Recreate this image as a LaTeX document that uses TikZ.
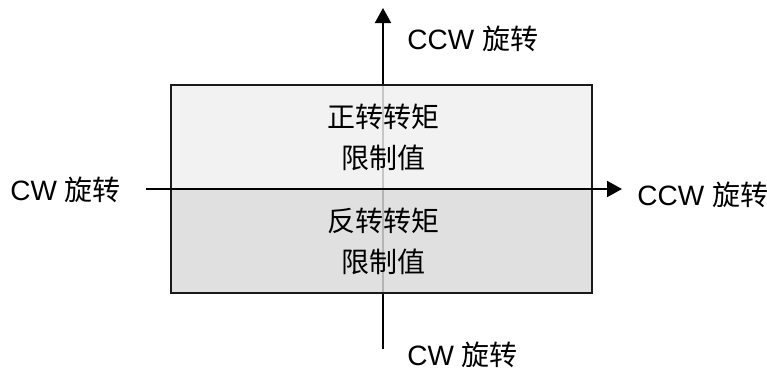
\documentclass[tikz,border=0pt]{standalone}
\usepackage{fontspec}
\setmainfont{Liberation Sans}
\newfontfamily\cjk{Noto Sans CJK SC}
\usetikzlibrary{arrows.meta,positioning}
\definecolor{posfill}{RGB}{239,239,239}
\definecolor{negfill}{RGB}{218,218,218}
\definecolor{rimgray}{RGB}{26,26,26}
\newcommand{\zh}[1]{{\cjk #1}}
\tikzset{
  limbox/.style={draw=rimgray,line width=0.65pt,fill=#1,fill opacity=0.83,text opacity=1,
    minimum width=210.5pt,minimum height=52pt,align=center,inner sep=0pt},
  dirlabel/.style={font=\fontsize{14}{16.5}\selectfont,inner sep=0pt},
}
\begin{document}
\begin{tikzpicture}[
    x=0.5pt,y=-0.5pt,
    axis/.style={-{Triangle[length=7.5pt,width=8pt]},line width=1pt},
  ]
    \useasboundingbox (0,0) rectangle (767,370);
    % axis ends
    \coordinate (ybot) at (383,349);
    \coordinate (ytop) at (383,8);
    \coordinate (xleft) at (146,189);
    \coordinate (xright) at (622,189);
    % vertical axis, under the boxes
    \draw[axis] (ybot) -- (ytop);
    % limit boxes
    \node[limbox=posfill] (pos) at (381.5,137) {};
    \node[limbox=negfill] (neg) at (381.5,241) {};
    \node[dirlabel,align=center] (postxt) at (383,137.5) {\zh{正转转矩}\\[4pt]\zh{限制值}};
    \node[dirlabel,align=center] (negtxt) at (383,241.5) {\zh{反转转矩}\\[4pt]\zh{限制值}};
    % horizontal axis, over the boxes
    \draw[axis] (xleft) -- (xright);
    % direction labels
    \node[dirlabel,anchor=west] (ccwtop) at (407,39) {CCW \zh{旋转}};
    \node[dirlabel,anchor=west] (cwbot) at (407,355) {CW \zh{旋转}};
    \node[dirlabel,anchor=west] (cwleft) at (10,190) {CW \zh{旋转}};
    \node[dirlabel,anchor=west] (ccwright) at (637,195) {CCW \zh{旋转}};
\end{tikzpicture}
\end{document}
